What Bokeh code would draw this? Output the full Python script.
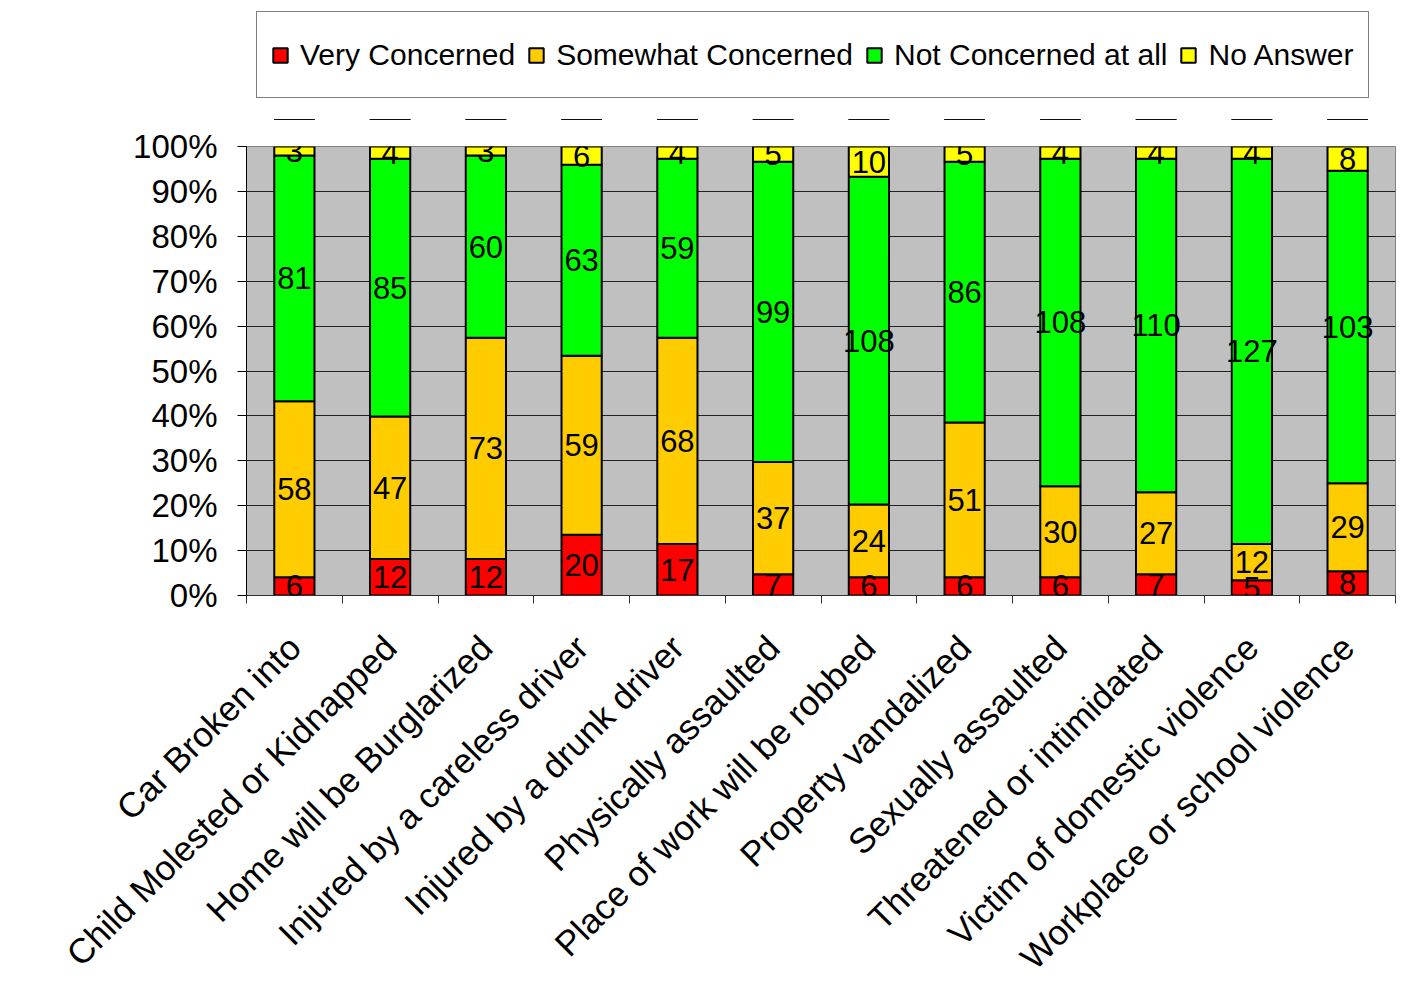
import math
from bokeh.plotting import figure
from bokeh.layouts import column
from bokeh.models import (ColumnDataSource, Legend, LegendItem, LinearAxis,
                          FixedTicker, Range1d, NumeralTickFormatter, LabelSet)
from bokeh.core.properties import value
from bokeh.embed import file_html
from bokeh.resources import INLINE

categories = ["Car Broken into", "Child Molested or Kidnapped", "Home will be Burglarized",
              "Injured by a careless driver", "Injured by a drunk driver", "Physically assaulted",
              "Place of work will be robbed", "Property vandalized", "Sexually assaulted",
              "Threatened or intimidated", "Victim of domestic violence", "Workplace or school violence"]
very = [6, 12, 12, 20, 17, 7, 6, 6, 6, 7, 5, 8]
somewhat = [58, 47, 73, 59, 68, 37, 24, 51, 30, 27, 12, 29]
not_at_all = [81, 85, 60, 63, 59, 99, 108, 86, 108, 110, 127, 103]
no_answer = [3, 4, 3, 6, 4, 5, 10, 5, 4, 4, 4, 8]

series_names = ["Very Concerned", "Somewhat Concerned", "Not Concerned at all", "No Answer"]
series_vals = [very, somewhat, not_at_all, no_answer]
colors = ["#FF0000", "#FFCC00", "#00FF00", "#FFFF00"]
y_ticks = [i / 10 for i in range(11)]

FONT = "Liberation Sans"
n = len(categories)
centers = [i + 0.5 for i in range(n)]
boundaries = list(range(n + 1))

totals = [sum(v) for v in zip(*series_vals)]
keys = ["s0", "s1", "s2", "s3"]
data = {"x": centers, "cat": categories}
for k, vals in zip(keys, series_vals):
    data[k] = [v / t for v, t in zip(vals, totals)]
source = ColumnDataSource(data)

# ---------------- legend strip ----------------
# same stacked series, in a strip whose y-range lies above the data, so only the legend shows
LEG_H = 120
pl = figure(width=1399, height=LEG_H, x_range=Range1d(0, n), y_range=Range1d(2, 3),
            output_backend="svg", toolbar_location=None,
            x_axis_location=None, y_axis_location=None, min_border=0)
pl.outline_line_color = None
pl.grid.grid_line_color = None
leg_renderers = pl.vbar_stack(keys, x="x", width=0.42, source=source, color=colors,
                              line_color="black", line_width=2)
legend = Legend(items=[LegendItem(label=nm, renderers=[r]) for nm, r in zip(series_names, leg_renderers)],
                orientation="horizontal", location=(10, LEG_H - 98))
legend.label_text_font = FONT
legend.label_text_font_size = "30px"
legend.label_text_color = "black"
legend.glyph_width = 18
legend.glyph_height = 18
legend.label_standoff = 11
legend.spacing = 12
legend.padding = 14
legend.label_height = 57
legend.margin = 0
legend.border_line_color = "black"
legend.border_line_width = 1
legend.background_fill_color = "white"
pl.add_layout(legend, "center")

# ---------------- main chart ----------------
p = figure(x_range=Range1d(0, n), y_range=Range1d(0, 1),
           width=1399, height=993 - LEG_H, output_backend="svg", toolbar_location=None,
           x_axis_location=None, y_axis_location=None,
           min_border_left=246, min_border_right=4, min_border_top=146 - LEG_H, min_border_bottom=393)
p.background_fill_color = "#C0C0C0"
p.outline_line_color = "#808080"
p.outline_line_width = 1

renderers = p.vbar_stack(keys, x="x", width=0.42, source=source, color=colors,
                         line_color="black", line_width=2)

lab_x, lab_y, lab_t = [], [], []
for i in range(n):
    cum = 0.0
    for k, vals in zip(keys, series_vals):
        frac = data[k][i]
        lab_x.append(centers[i])
        lab_y.append(cum + frac / 2)
        lab_t.append(str(vals[i]))
        cum += frac
lsrc = ColumnDataSource(dict(x=lab_x, y=lab_y, t=lab_t))
labels = LabelSet(x="x", y="y", text="t", source=lsrc, text_align="center",
                  text_baseline="middle", text_font=value(FONT), text_font_size="31px",
                  text_color="black")
p.add_layout(labels)

yaxis = LinearAxis(ticker=FixedTicker(ticks=y_ticks), formatter=NumeralTickFormatter(format="0%"))
yaxis.major_label_text_font = FONT
yaxis.major_label_text_font_size = "33px"
yaxis.major_label_text_color = "black"
yaxis.major_tick_out = 9
yaxis.major_tick_in = 0
yaxis.minor_tick_line_color = None
yaxis.axis_line_color = "black"
yaxis.major_tick_line_color = "black"
yaxis.major_label_standoff = 20
p.add_layout(yaxis, "left")

p.ygrid.ticker = FixedTicker(ticks=y_ticks)
p.ygrid.grid_line_color = "#222222"
p.ygrid.grid_line_width = 1
p.xgrid.grid_line_color = None

cat_axis = LinearAxis(ticker=FixedTicker(ticks=centers, minor_ticks=boundaries),
                      major_label_overrides={c: name for c, name in zip(centers, categories)})
cat_axis.axis_line_color = "#333333"
cat_axis.major_tick_line_color = None
cat_axis.minor_tick_line_color = "#333333"
cat_axis.minor_tick_out = 8
cat_axis.minor_tick_in = 0
cat_axis.major_tick_out = 0
cat_axis.major_tick_in = 0
cat_axis.major_label_orientation = math.pi / 4
cat_axis.major_label_text_font = FONT
cat_axis.major_label_text_font_size = "35px"
cat_axis.major_label_text_color = "black"
cat_axis.major_label_standoff = 38
p.add_layout(cat_axis, "below")

layout = column(pl, p, spacing=0)
open("out.html", "w").write(file_html(layout, INLINE))
